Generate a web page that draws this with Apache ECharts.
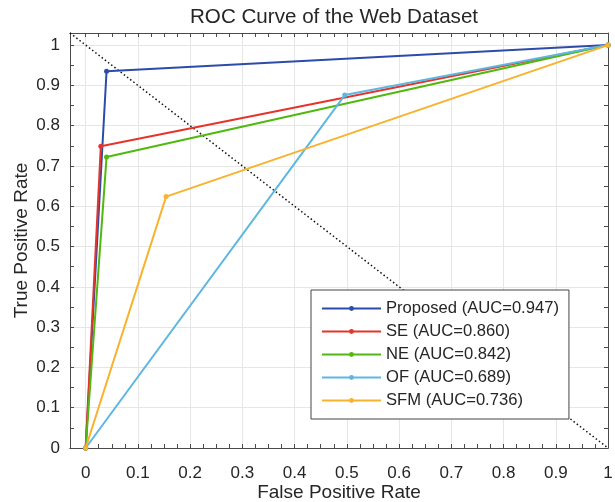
<!DOCTYPE html>
<html>
<head>
<meta charset="utf-8">
<script src="https://cdn.jsdelivr.net/npm/echarts@6/dist/echarts.min.js"></script>
<style>
  html, body {margin: 0; padding: 0; background: #fff;}
  #chart {width: 615px; height: 502px;}
</style>
</head>
<body>
<div id="chart"></div>
<script>
// ROC points [false positive rate, true positive rate]
const proposed = [[0, 0], [0.04, 0.935], [1, 1]];
const se = [[0, 0], [0.029, 0.749], [1, 1]];
const ne = [[0, 0], [0.04, 0.722], [1, 1]];
const of = [[0, 0], [0.496, 0.876], [1, 1]];
const sfm = [[0, 0], [0.154, 0.624], [1, 1]];
const chanceLine = [[-0.03, 1.03], [1, 0]];

const seriesNames = [
  'Proposed (AUC=0.947)',
  'SE (AUC=0.860)',
  'NE (AUC=0.842)',
  'OF (AUC=0.689)',
  'SFM (AUC=0.736)'
];
const seriesColors = ['#2D4BA8', '#E5352B', '#50B80E', '#5DB7E0', '#F7B22E'];

const xTicks = [0, 0.1, 0.2, 0.3, 0.4, 0.5, 0.6, 0.7, 0.8, 0.9, 1];
const yTicks = [0, 0.1, 0.2, 0.3, 0.4, 0.5, 0.6, 0.7, 0.8, 0.9, 1];
const xMinorTicks = [];
for (let i = 0; i <= 40; i++) xMinorTicks.push(+(i * 0.025).toFixed(3));
const yMinorTicks = [];
for (let i = 0; i <= 20; i++) yMinorTicks.push(+(i * 0.05).toFixed(2));

const xMin = -0.03, xMax = 1;
const yMin = 0, yMax = 1.03;
const font = 'Liberation Sans, Arial, Helvetica, sans-serif';
const ink = '#262626';
const spine = '#4a4a4a';

const chart = echarts.init(document.getElementById('chart'));

const tickAxis = (pos, ticks, extra) => Object.assign({
  type: 'value',
  position: pos,
  axisLine: {show: true, onZero: false, lineStyle: {color: spine, width: 1}},
  axisTick: {show: true, inside: true, length: 4, customValues: ticks, lineStyle: {color: spine}},
  axisLabel: {show: false},
  splitLine: {show: false}
}, extra);

chart.setOption({
  animation: false,
  textStyle: {fontFamily: font},
  title: {
    text: 'ROC Curve of the Web Dataset',
    left: 185,
    top: 2,
    textStyle: {fontFamily: font, fontSize: 20.6, fontWeight: 'normal', color: ink}
  },
  grid: {left: 70, right: 7, top: 33, bottom: 54, outerBoundsMode: 'none', containLabel: false},
  legend: {
    data: seriesNames,
    orient: 'vertical',
    left: 311,
    top: 290,
    padding: [10, 10, 10, 10],
    itemWidth: 59,
    itemHeight: 6,
    itemGap: 6,
    backgroundColor: '#fff',
    borderColor: '#444',
    borderWidth: 1,
    borderRadius: 0,
    textStyle: {fontFamily: font, fontSize: 16.6, color: ink}
  },
  xAxis: [
    {
      type: 'value', position: 'bottom', min: xMin, max: xMax,
      name: 'False Positive Rate', nameLocation: 'middle', nameGap: 35, nameMoveOverlap: false,
      nameTextStyle: {fontFamily: font, fontSize: 19, color: ink},
      axisLine: {show: true, onZero: false, lineStyle: {color: spine}},
      axisTick: {show: false, customValues: xTicks},
      axisLabel: {show: true, customValues: xTicks, margin: 17, fontSize: 17, color: ink, fontFamily: font},
      splitLine: {show: true, lineStyle: {color: '#e6e6e6', width: 1}}
    },
    tickAxis('bottom', xMinorTicks, {min: xMin, max: xMax}),
    tickAxis('top', xMinorTicks, {min: xMin, max: xMax})
  ],
  yAxis: [
    {
      type: 'value', position: 'left', min: yMin, max: yMax,
      name: 'True Positive Rate', nameLocation: 'middle', nameGap: 39, nameMoveOverlap: false,
      nameTextStyle: {fontFamily: font, fontSize: 19, color: ink},
      axisLine: {show: true, onZero: false, lineStyle: {color: spine}},
      axisTick: {show: false, customValues: yTicks},
      axisLabel: {show: true, customValues: yTicks, margin: 10, fontSize: 17, color: ink, fontFamily: font},
      splitLine: {show: true, lineStyle: {color: '#e6e6e6', width: 1}}
    },
    tickAxis('left', yMinorTicks, {min: yMin, max: yMax}),
    tickAxis('right', yMinorTicks, {min: yMin, max: yMax})
  ],
  series: [
    {
      name: 'chance',
      type: 'line',
      data: chanceLine,
      symbol: 'none',
      silent: true,
      lineStyle: {color: '#111', width: 1.5, type: [1.5, 2.5]},
      z: 1
    },
    ...[proposed, se, ne, of, sfm].map((pts, i) => ({
      name: seriesNames[i],
      type: 'line',
      data: pts,
      symbol: 'circle',
      symbolSize: 5,
      showSymbol: true,
      color: seriesColors[i],
      itemStyle: {color: seriesColors[i]},
      lineStyle: {color: seriesColors[i], width: 2},
      z: 2 + i
    }))
  ]
});
</script>
</body>
</html>
